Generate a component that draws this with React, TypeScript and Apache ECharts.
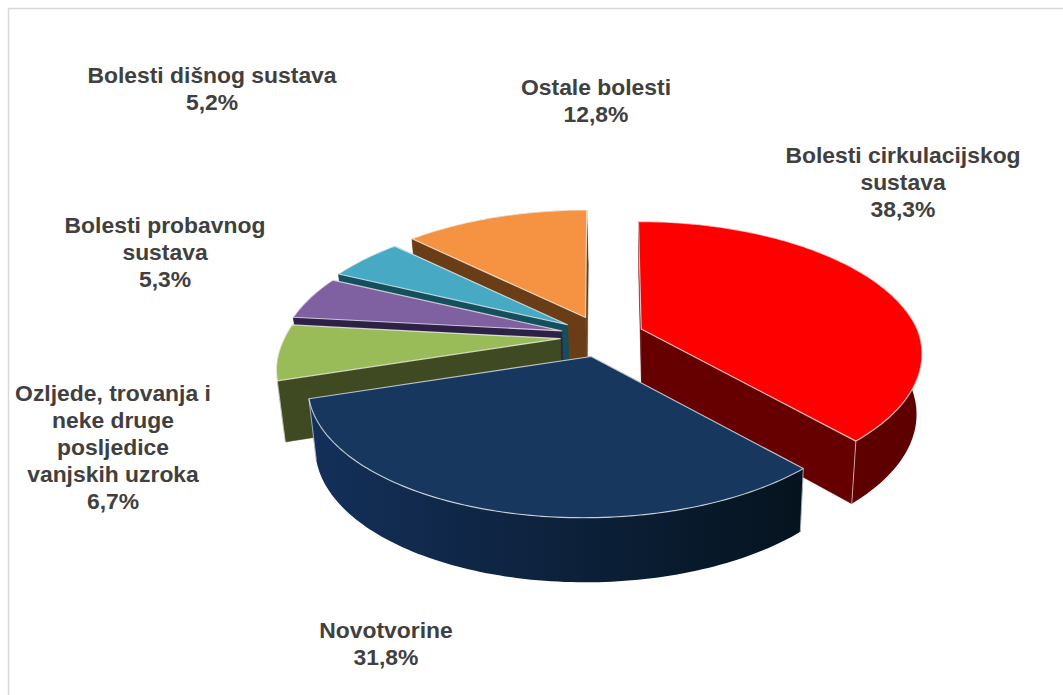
import React, { useEffect, useRef } from "react";
import * as echarts from "echarts";

const categories = [
  ["Bolesti cirkulacijskog", "sustava"],
  ["Novotvorine"],
  ["Ozljede, trovanja i", "neke druge", "posljedice", "vanjskih uzroka"],
  ["Bolesti probavnog", "sustava"],
  ["Bolesti dišnog sustava"],
  ["Ostale bolesti"],
];
const shares = [38.3, 31.8, 6.7, 5.3, 5.2, 12.8];

const topColors = ["#FF0000", "#17375E", "#99BB58", "#7F60A0", "#47A9C4", "#F59343"];
const wallLeft = ["#660000", "#14305A", "#3F4A22", "#2E2147", "#134F5C", "#6B3D16"];
const wallRight = ["#5E0000", "#05131E", "#3F4A22", "#2E2147", "#134F5C", "#6B3D16"];
const labelCentres = [
  [903, 183],
  [386, 644],
  [113, 448],
  [165, 253],
  [212, 89],
  [596, 101],
];

const PIE = {
  centreX: 602, centreY: 336.5, explodeX: 42, explodeY: 20.7,
  radiusX: 276, radiusY: 129, perspective: 0.2,
  depth: 60, depthGrow: 0.025, vanishX: 660, converge: 0.021,
  explodeConverge: 0.07, frontLean: 7,
};

const total = shares.reduce((a, b) => a + b, 0);
const sweep = shares.map((v) => (v / total) * Math.PI * 2);
const starts = sweep.map((_, i) => sweep.slice(0, i).reduce((a, b) => a + b, 0));
const mids = sweep.map((s, i) => starts[i] + s / 2);
// painter's order: far slices first
const drawOrder = shares.map((_, i) => i).sort((a, b) => -Math.cos(mids[a]) + Math.cos(mids[b]));

function rimPoint(apex: number[], offsetX: number, angle: number) {
  const u = Math.sin(angle);
  const v = -Math.cos(angle);
  const s = 1 / (1 - PIE.perspective * v);
  return [
    apex[0] + offsetX * PIE.explodeConverge * v + PIE.radiusX * u * s - PIE.frontLean * Math.max(v, 0),
    apex[1] + PIE.radiusY * v * s,
  ];
}
const drop = (p: number[]) => [
  p[0] + (PIE.vanishX - p[0]) * PIE.converge,
  p[1] + PIE.depth + (p[1] - PIE.centreY) * PIE.depthGrow,
];

function renderSlice(params: any, api: any) {
  const i = api.value(0);
  const a0 = starts[i];
  const a1 = a0 + sweep[i];
  const offsetX = PIE.explodeX * Math.sin(mids[i]);
  const apex = [PIE.centreX + offsetX, PIE.centreY - PIE.explodeY * Math.cos(mids[i])];
  const n = Math.max(8, Math.ceil(sweep[i] / 0.02));
  const rim: number[][] = [];
  for (let k = 0; k <= n; k++) rim.push(rimPoint(apex, offsetX, a0 + ((a1 - a0) * k) / n));
  const rimLow = rim.map(drop);
  const apexLow = drop(apex);
  const first = rim[0];
  const last = rim[n];
  const wallFill = new echarts.graphic.LinearGradient(0, 0, 1, 0, [
    { offset: 0, color: wallLeft[i] },
    { offset: 1, color: wallRight[i] },
  ]);
  const face = (pts: number[][]) => ({
    type: "polygon",
    shape: { points: pts },
    style: { fill: wallLeft[i], stroke: wallLeft[i], lineWidth: 0.5 },
  });
  const edge = (p: number[], angle: number) =>
    Math.cos(angle) < 0
      ? [
          {
            type: "line",
            shape: { x1: p[0], y1: p[1], x2: drop(p)[0], y2: drop(p)[1] },
            style: { stroke: "rgba(255,255,255,0.6)", lineWidth: 1 },
          },
        ]
      : [];
  return {
    type: "group",
    children: [
      face([apex, first, drop(first), apexLow]),
      face([apex, last, drop(last), apexLow]),
      {
        type: "polygon",
        shape: { points: [...rim, ...rimLow.slice().reverse()] },
        style: { fill: wallFill, stroke: null },
      },
      ...edge(first, a0),
      ...edge(last, a1),
      {
        type: "polygon",
        shape: { points: [apex, ...rim] },
        style: { fill: topColors[i], stroke: "rgba(255,255,255,0.7)", lineWidth: 1.2, lineJoin: "round" },
      },
    ],
  };
}

const labelGraphics = categories.map((lines, i) => ({
  type: "text",
  x: labelCentres[i][0],
  y: labelCentres[i][1],
  scaleX: 1.04,
  style: {
    text: [...lines, `${shares[i].toFixed(1).replace(".", ",")}%`].join("\n"),
    fontFamily: "Liberation Sans",
    fontWeight: "bold",
    fontSize: 22,
    lineHeight: 27,
    fill: "#404040",
    textAlign: "center",
    textVerticalAlign: "middle",
  },
}));

export default function App() {
  const ref = useRef<HTMLDivElement>(null);
  useEffect(() => {
    document.body.style.margin = "0";
    const chart = echarts.init(ref.current!, undefined, { renderer: "svg" });
    chart.setOption({
      animation: false,
      backgroundColor: "#FFFFFF",
      graphic: [
        {
          type: "rect",
          shape: { x: 8.5, y: 8.5, width: 1200, height: 900 },
          style: { fill: "none", stroke: "#D9D9D9", lineWidth: 1.5 },
        },
        ...labelGraphics,
      ],
      series: [
        {
          type: "custom",
          coordinateSystem: "none",
          renderItem: renderSlice,
          data: drawOrder.map((i) => ({ value: [i, shares[i]], name: categories[i].join(" ") })),
          silent: true,
        },
      ],
    });
    return () => chart.dispose();
  }, []);
  return <div ref={ref} style={{ width: 1063, height: 695 }} />;
}
